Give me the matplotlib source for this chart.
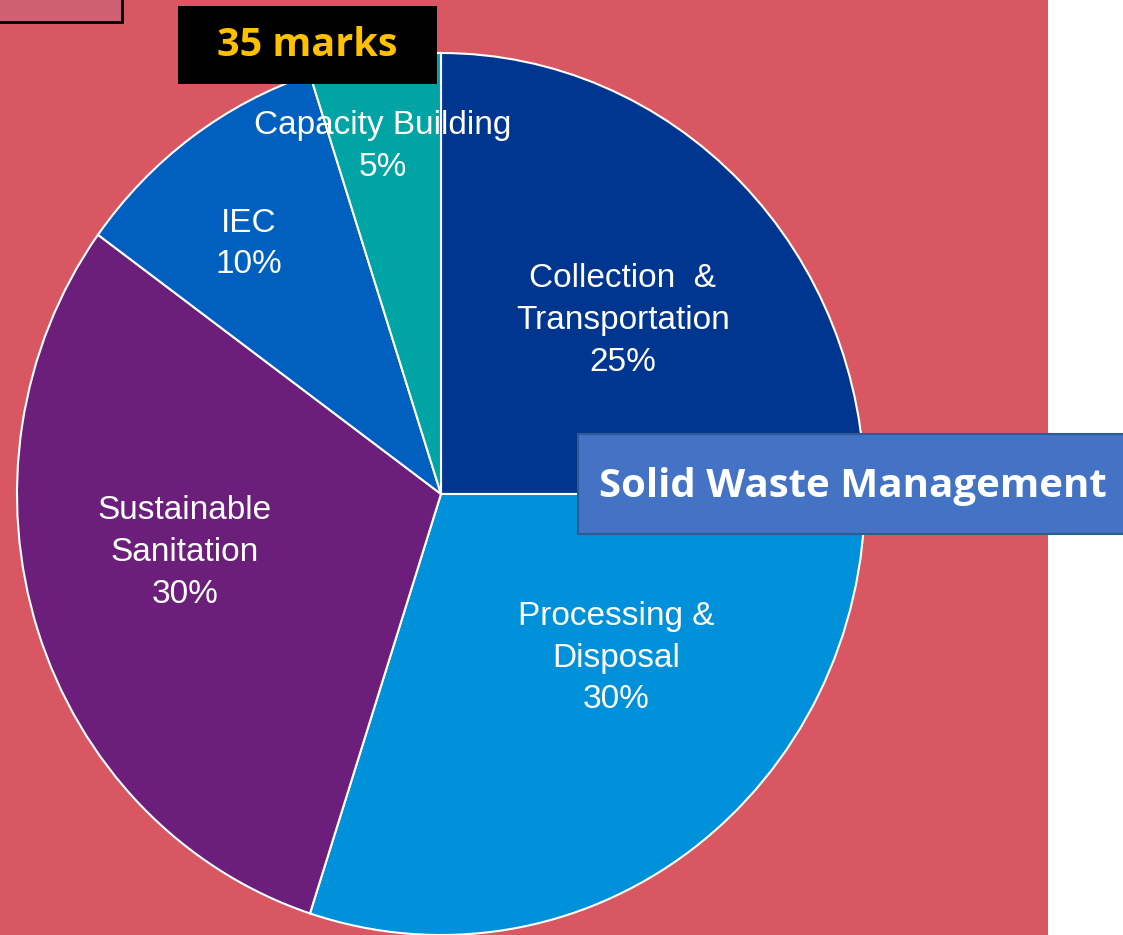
import matplotlib
matplotlib.use("Agg")
import matplotlib.pyplot as plt
from matplotlib.patches import Rectangle

# ---- data ----
categories = ["Collection  &\nTransportation", "Processing &\nDisposal",
              "Sustainable\nSanitation", "IEC", "Capacity Building"]
shares = [25, 30, 30, 10, 5]
colors = ["#003590", "#0091da", "#6b1f7b", "#005fbf", "#00a4a4"]
marks_label = "35 marks"
title_label = "Solid Waste Management"

W, H = 1123, 935
fig = plt.figure(figsize=(W / 100, H / 100), dpi=100)
fig.patch.set_facecolor("white")

# background axes in pixel coordinates
bg = fig.add_axes([0, 0, 1, 1])
bg.set_xlim(0, W)
bg.set_ylim(H, 0)
bg.axis("off")
bg.add_patch(Rectangle((0, 0), 1048, H, facecolor="#d85763", edgecolor="none", zorder=0))
bg.add_patch(Rectangle((-5, -5), 127, 27, facecolor="#cf6072", edgecolor="black", lw=2, zorder=1))

# pie axes (slightly elliptical, as in the reference)
cx, cy, rx, ry = 441, 494, 424, 441
pa = fig.add_axes([(cx - rx) / W, (H - cy - ry) / H, 2 * rx / W, 2 * ry / H])
pa.pie(shares, colors=colors, startangle=90, counterclock=False,
       wedgeprops=dict(edgecolor="white", linewidth=1.5))
pa.set_aspect("auto")
pa.set_xlim(-1, 1)
pa.set_ylim(-1, 1)
pa.axis("off")
pa.patch.set_alpha(0)

label_pos = [(0.429, 0.394), (0.413, -0.372), (-0.604, -0.132), (-0.453, 0.567), (-0.137, 0.788)]
for cat, val, (x, y) in zip(categories, shares, label_pos):
    pa.text(x, y, f"{cat}\n{val}%", ha="center", va="center", color="white",
            fontsize=24, family="Liberation Sans", linespacing=1.45)

# overlay axes for annotation boxes
ov = fig.add_axes([0, 0, 1, 1])
ov.set_xlim(0, W)
ov.set_ylim(H, 0)
ov.axis("off")
ov.patch.set_alpha(0)
ov.add_patch(Rectangle((178, 6), 259, 78, facecolor="black", edgecolor="none", zorder=5))
ov.text(307.5, 46, marks_label, ha="center", va="center", color="#ffc000",
        fontsize=28.5, fontweight="bold", family="Open Sans", zorder=6)
ov.add_patch(Rectangle((578, 434), 560, 100, facecolor="#4472c4", edgecolor="#2f5b8f", lw=1.5, zorder=5))
ov.text(853, 487, title_label, ha="center", va="center", color="white",
        fontsize=29, fontweight="bold", family="Open Sans", zorder=6)

fig.savefig("out.png", dpi=100, facecolor=fig.get_facecolor())
